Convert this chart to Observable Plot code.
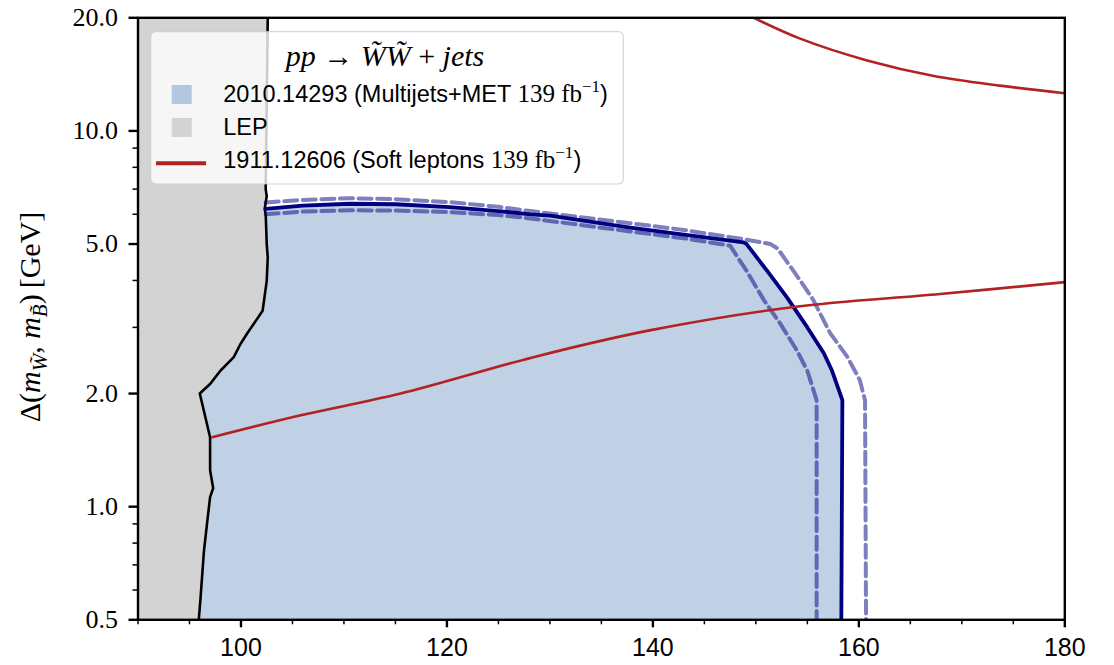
<!DOCTYPE html>
<html><head><meta charset="utf-8">
<script src="https://cdn.jsdelivr.net/npm/d3@7"></script>
<script src="https://cdn.jsdelivr.net/npm/@observablehq/plot@0.6"></script>
<style>html,body{margin:0;padding:0;background:#fff;}</style>
</head><body><div id="chart"></div>
<script>
// ---- axes ----
const xDomain = [90, 180];
const yDomain = [0.5, 20];
const xMajorTicks = [100, 120, 140, 160, 180];
const xMinorTicks = [90, 95, 105, 110, 115, 125, 130, 135, 145, 150, 155, 165, 170, 175];
const yMajorTicks = [0.5, 1, 2, 5, 10, 20];
const yMinorTicks = [0.6, 0.7, 0.8, 0.9, 3, 4, 6, 7, 8, 9];

// ---- LEP boundary (x as function of y) ----
const lepX = [95.9, 96.07, 96.4, 96.7, 97.0, 97.3, 97.0, 97.0, 96.0, 97.0, 98.0, 99.3, 99.95, 100.6, 102.1, 102.5, 102.6, 102.5, 102.4, 102.3, 102.5, 102.4, 102.6];
const lepY = [0.5, 0.57, 0.76, 0.9, 1.06, 1.12, 1.25, 1.53, 2.0, 2.12, 2.3, 2.5, 2.71, 2.89, 3.32, 3.99, 4.6, 5.0, 6.0, 6.2, 6.7, 7.0, 20];

// ---- 2010.14293 observed (solid) and expected +-1 sigma (dashed) ----
const obsX = [102.4, 106, 110.6, 115, 120.3, 125, 128.1, 130, 137.8, 143, 148.8, 149.1, 151.1, 153.0, 155.0, 156.6, 157.4, 158.4, 158.3];
const obsY = [6.2, 6.33, 6.4, 6.38, 6.27, 6.12, 6.0, 5.95, 5.53, 5.3, 5.05, 5.0, 4.24, 3.61, 3.0, 2.56, 2.30, 1.92, 0.5];
const expUpX = [102.4, 106, 110.6, 115, 120.3, 125, 128.1, 137.8, 143, 148.8, 151.4, 152.1, 154.3, 155.6, 157.2, 158.9, 160.1, 160.6, 160.7];
const expUpY = [6.45, 6.55, 6.62, 6.58, 6.46, 6.28, 6.12, 5.68, 5.45, 5.15, 5.0, 4.87, 4.0, 3.54, 2.9, 2.5, 2.17, 1.92, 0.5];
const expDnX = [102.4, 106, 110.6, 115, 120.3, 125, 128.1, 137.8, 143, 147.5, 149.1, 150.8, 152.4, 154.0, 155.0, 155.9, 155.9];
const expDnY = [6.0, 6.1, 6.15, 6.14, 6.08, 5.97, 5.85, 5.4, 5.18, 4.95, 4.24, 3.54, 3.06, 2.6, 2.3, 1.92, 0.5];

// ---- 1911.12606 soft leptons ----
const softLowX = [97.2, 105.8, 115.5, 128.4, 139.8, 153.7, 167.9, 180];
const softLowY = [1.53, 1.75, 2.0, 2.5, 2.95, 3.40, 3.68, 3.96];
const softHighX = [149.8, 154.3, 160.8, 167.3, 173.7, 180];
const softHighY = [20, 17.6, 15.4, 14.0, 13.2, 12.6];

// ---- legend / labels ----
const legendTitle = "pp → W̃W̃ + jets";
const legendLabels = ["2010.14293 (Multijets+MET ", "LEP", "1911.12606 (Soft leptons "];
const lumiLabel = "139 fb";
const yLabel = "Δ(m_W̃, m_B̃) [GeV]";

const zip = (xs, ys) => xs.map((x, i) => ({x, y: ys[i]}));
const lep = zip(lepX, lepY);
const obs = zip(obsX, obsY);
const expUp = zip(expUpX, expUpY);
const expDn = zip(expDnX, expDnY);
const softLow = zip(softLowX, softLowY);
const softHigh = zip(softHighX, softHighY);
const blueFill = [{x: xDomain[0], y: obsY[0]}, ...obs];

const dashStyle = {stroke: "navy", strokeOpacity: 0.5, strokeWidth: 4, strokeDasharray: "13,5.6", clip: true};

const chart = Plot.plot({
  width: 1114, height: 665,
  marginLeft: 137.5, marginRight: 49.7, marginTop: 17.3, marginBottom: 45.7,
  x: {domain: xDomain},
  y: {type: "log", domain: yDomain},
  style: {background: "white", color: "black", overflow: "visible"},
  marks: [
    Plot.areaY(blueFill, {x: "x", y1: () => yDomain[0], y2: "y", fill: "lightsteelblue", fillOpacity: 0.8, clip: true}),
    Plot.areaX(lep, {y: "y", x1: () => xDomain[0], x2: "x", fill: "lightgray", clip: true}),
    Plot.line(lep, {x: "x", y: "y", stroke: "black", strokeWidth: 2.6, clip: true}),
    Plot.line(expUp, {x: "x", y: "y", ...dashStyle}),
    Plot.line(expDn, {x: "x", y: "y", ...dashStyle}),
    Plot.line(obs, {x: "x", y: "y", stroke: "navy", strokeWidth: 3.8, clip: true}),
    Plot.line(softLow, {x: "x", y: "y", stroke: "firebrick", strokeWidth: 2.6, curve: "catmull-rom", clip: true}),
    Plot.line(softHigh, {x: "x", y: "y", stroke: "firebrick", strokeWidth: 2.6, curve: "catmull-rom", clip: true}),
    Plot.frame({stroke: "black", strokeWidth: 2.4}),
    Plot.axisX({ticks: xMajorTicks, tickSize: 8, tickPadding: 10, strokeWidth: 2.4, fontSize: 25, fontFamily: "Liberation Sans", label: null}),
    Plot.axisX({ticks: xMinorTicks, tickSize: 5, strokeWidth: 1.5, tickFormat: () => "", label: null}),
    Plot.axisY({ticks: yMajorTicks, tickSize: 9, tickPadding: 11, strokeWidth: 2.4, fontSize: 26, fontFamily: "Liberation Serif", tickFormat: d3.format(".1f"), label: null}),
    Plot.axisY({ticks: yMinorTicks, tickSize: 5, strokeWidth: 1.5, tickFormat: () => "", label: null})
  ]
});
document.getElementById("chart").appendChild(chart);

const svg = d3.select(chart);

// y-axis label (mathtext style)
const yl = svg.append("text")
  .attr("transform", "translate(40,317) rotate(-90)")
  .attr("text-anchor", "middle")
  .attr("font-family", "Liberation Serif")
  .attr("font-size", 30)
  .attr("fill", "black");
const ylParts = yLabel.match(/^(Δ\()m_(.+), m_(.+)\)( \[GeV\])$/);
yl.append("tspan").text(ylParts[1]);
yl.append("tspan").attr("font-style", "italic").text("m");
yl.append("tspan").attr("font-style", "italic").attr("font-size", 21).attr("dy", 7).text(ylParts[2]);
yl.append("tspan").attr("dy", -7).text(", ");
yl.append("tspan").attr("font-style", "italic").text("m");
yl.append("tspan").attr("font-style", "italic").attr("font-size", 21).attr("dy", 7).text(ylParts[3]);
yl.append("tspan").attr("dy", -7).text(")");
yl.append("tspan").attr("dx", 6).text(ylParts[4].trim());

// legend
const lg = svg.append("g").attr("text-anchor", "start");
lg.append("rect").attr("x", 150.7).attr("y", 31.7).attr("width", 472.6).attr("height", 152.3)
  .attr("rx", 5).attr("fill", "white").attr("fill-opacity", 0.8)
  .attr("stroke", "#cccccc").attr("stroke-opacity", 0.8).attr("stroke-width", 1.2);

const tt = lg.append("text").attr("x", 385).attr("y", 66).attr("text-anchor", "middle")
  .attr("font-family", "Liberation Serif").attr("font-size", 30).attr("fill", "black");
const tParts = legendTitle.split(" ");
tt.append("tspan").attr("font-style", "italic").text(tParts[0]);
tt.append("tspan").text(" " + tParts[1] + " ");
tt.append("tspan").attr("font-style", "italic").text(tParts[2]);
tt.append("tspan").text(" " + tParts[3] + " ");
tt.append("tspan").attr("font-style", "italic").text(tParts[4]);

const rowBase = [101.7, 135, 168];
lg.append("rect").attr("x", 171.7).attr("y", 85).attr("width", 20).attr("height", 19).attr("fill", "lightsteelblue").attr("fill-opacity", 0.95);
lg.append("rect").attr("x", 171.7).attr("y", 118).attr("width", 20).attr("height", 19).attr("fill", "lightgray");
lg.append("line").attr("x1", 156).attr("x2", 206).attr("y1", 163.3).attr("y2", 163.3).attr("stroke", "firebrick").attr("stroke-width", 4);

legendLabels.forEach((lab, i) => {
  const t = lg.append("text").attr("x", 223.3).attr("y", rowBase[i]).attr("text-anchor", "start")
    .attr("font-family", "Liberation Sans").attr("font-size", 23.5).attr("fill", "black");
  t.append("tspan").text(lab);
  if (i !== 1) {
    t.append("tspan").attr("font-family", "Liberation Serif").attr("font-size", 25).text(lumiLabel);
    t.append("tspan").attr("font-family", "Liberation Serif").attr("font-size", 17).attr("dy", -10).text("−1");
    t.append("tspan").attr("dy", 10).text(")");
  }
});
</script>
</body></html>
